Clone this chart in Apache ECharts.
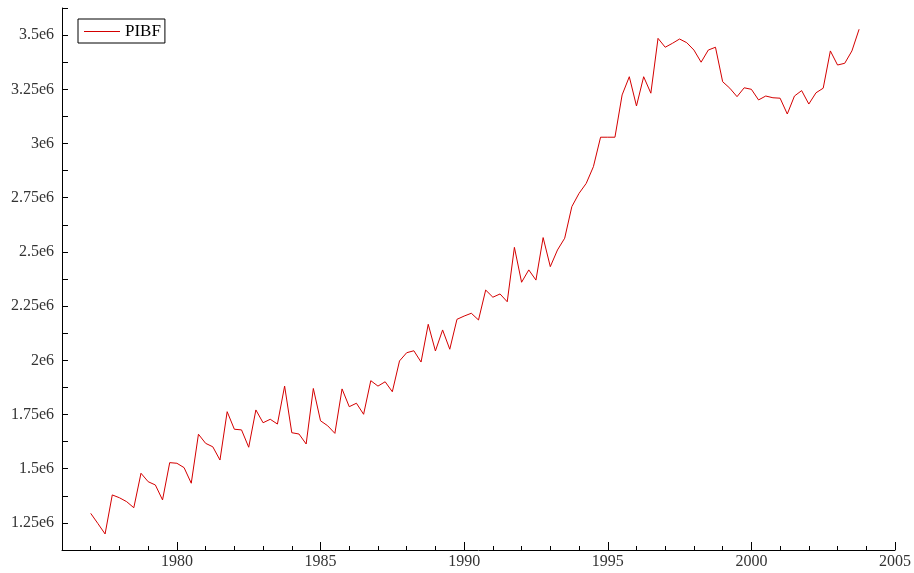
<!DOCTYPE html>
<html>
<head>
<meta charset="utf-8">
<script src="https://cdn.jsdelivr.net/npm/echarts@6/dist/echarts.min.js"></script>
<style>
  html, body { margin: 0; padding: 0; background: #fff; }
  #main { width: 914px; height: 573px; }
</style>
</head>
<body>
<div id="main"></div>
<script>
// quarterly PIBF, first point 1977 Q1
const startYear = 1977
const pibf = [
  1294000, 1247000, 1199000, 1379000,
  1366000, 1348000, 1320000, 1479000,
  1440000, 1425000, 1356000, 1528000,
  1525000, 1505000, 1433000, 1659000,
  1617000, 1601000, 1540000, 1763000,
  1682000, 1679000, 1599000, 1771000,
  1712000, 1728000, 1706000, 1881000,
  1666000, 1660000, 1614000, 1870000,
  1721000, 1698000, 1663000, 1868000,
  1786000, 1802000, 1751000, 1906000,
  1881000, 1901000, 1855000, 1997000,
  2035000, 2044000, 1992000, 2166000,
  2043000, 2140000, 2051000, 2189000,
  2204000, 2217000, 2186000, 2324000,
  2291000, 2306000, 2270000, 2521000,
  2360000, 2417000, 2370000, 2566000,
  2432000, 2509000, 2563000, 2709000,
  2770000, 2816000, 2893000, 3029000,
  3029000, 3029000, 3224000, 3308000,
  3173000, 3308000, 3232000, 3485000,
  3444000, 3462000, 3482000, 3465000,
  3431000, 3375000, 3431000, 3444000,
  3285000, 3255000, 3216000, 3257000,
  3250000, 3201000, 3219000, 3211000,
  3209000, 3136000, 3219000, 3244000,
  3182000, 3234000, 3255000, 3427000,
  3362000, 3370000, 3427000, 3527000
]
const xLabelYears = [1980, 1985, 1990, 1995, 2000, 2005]
const yLabelValues = [1250000, 1500000, 1750000, 2000000, 2250000, 2500000, 2750000, 3000000, 3250000, 3500000]

const seriesData = pibf.map((v, i) => [startYear + i * 0.25, v])

const labelFont = { fontFamily: 'Liberation Serif', fontSize: 16, color: '#333' }

const myChart = echarts.init(document.getElementById('main'))

const option = {
  animation: false,
  backgroundColor: '#fff',
  grid: { left: 62, right: 18, top: 8, bottom: 23 },
  legend: {
    left: 78,
    top: 19,
    orient: 'vertical',
    borderColor: '#000',
    borderWidth: 1,
    padding: [4, 4, 3, 6],
    icon: 'rect',
    itemWidth: 36,
    itemHeight: 1,
    itemGap: 0,
    textStyle: { fontFamily: 'Liberation Serif', fontSize: 17, color: '#000' },
    data: ['PIBF']
  },
  xAxis: [
    {
      type: 'value',
      min: 1976,
      max: 2005,
      interval: 1,
      axisLine: { lineStyle: { color: '#000', width: 1 } },
      axisTick: { inside: true, length: 4, lineStyle: { color: '#000' } },
      axisLabel: { show: false },
      splitLine: { show: false }
    },
    {
      type: 'value',
      min: 1976,
      max: 2005,
      position: 'bottom',
      axisLine: { show: false },
      axisTick: { inside: true, length: 8, customValues: xLabelYears, lineStyle: { color: '#000' } },
      axisLabel: Object.assign({
        margin: 4,
        customValues: xLabelYears,
        formatter: (v) => String(v)
      }, labelFont),
      splitLine: { show: false }
    }
  ],
  yAxis: [
    {
      type: 'value',
      min: 1125000,
      max: 3625000,
      interval: 125000,
      axisLine: { show: true, lineStyle: { color: '#000', width: 1 } },
      axisTick: { show: true, inside: true, length: 6, lineStyle: { color: '#000' } },
      axisLabel: Object.assign({
        margin: 8,
        customValues: yLabelValues,
        formatter: (v) => (v / 1e6) + 'e6'
      }, labelFont),
      splitLine: { show: false }
    }
  ],
  series: [
    {
      name: 'PIBF',
      type: 'line',
      xAxisIndex: 0,
      symbol: 'none',
      lineStyle: { color: '#d40000', width: 1 },
      itemStyle: { color: '#d40000' },
      data: seriesData
    }
  ]
}

myChart.setOption(option)
</script>
</body>
</html>
